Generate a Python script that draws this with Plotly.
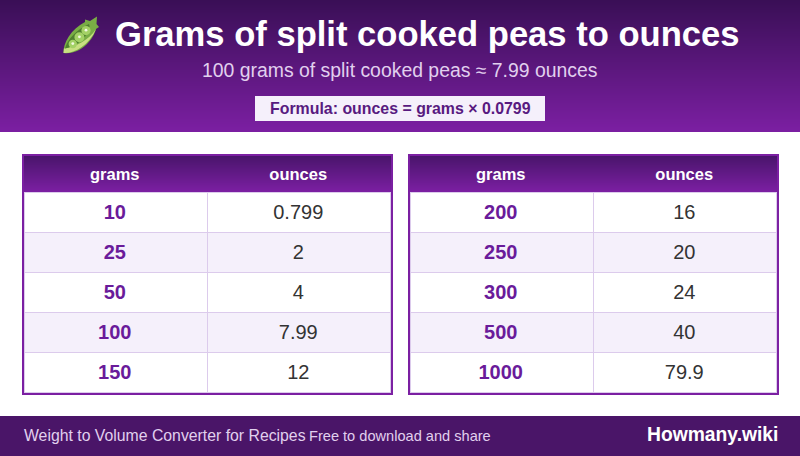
import plotly.graph_objects as go

# ---- data ----
TITLE = "Grams of split cooked peas to ounces"
SUBTITLE = "100 grams of split cooked peas ≈ 7.99 ounces"
FORMULA = "Formula: ounces = grams × 0.0799"
FOOT_LEFT = "Weight to Volume Converter for Recipes"
FOOT_MID = "Free to download and share"
BRAND = "Howmany.wiki"
COLUMNS = ["grams", "ounces"]
grams_left = ["10", "25", "50", "100", "150"]
ounces_left = ["0.799", "2", "4", "7.99", "12"]
grams_right = ["200", "250", "300", "500", "1000"]
ounces_right = ["16", "20", "24", "40", "79.9"]

W, H = 800, 456
FONT = "Liberation Sans, Arial, sans-serif"
PURPLE = "#7b1fa2"
DEEP = "#6a1b9a"
LINE = "#dccbec"
ALT = "#f5f0fb"
FOOT = "#4a1568"
TEXT_DROP = 4  # table text sits above the middle of its row
TEXT_LEFT = 1  # and a pixel right of the middle of its column


def lerp(c0, c1, t):
    return "rgb(%d,%d,%d)" % tuple(round(a + (b - a) * t) for a, b in zip(c0, c1))


shapes = []


def rect(x0, y0, x1, y1, fill, layer="below"):
    shapes.append(dict(type="rect", xref="x", yref="y", x0=x0, y0=y0, x1=x1, y1=y1,
                       fillcolor=fill, layer=layer, line=dict(width=0)))


def gradient(x0, y0, x1, y1, c0, c1):
    n = y1 - y0
    for i in range(n):
        rect(x0, y0 + i, x1, y0 + i + 1, lerp(c0, c1, i / max(n - 1, 1)))


gradient(0, 0, W, 132, (58, 15, 86), (123, 31, 162))
rect(255, 96, 545, 121, ALT)
rect(0, 416, W, H, FOOT)

fig = go.Figure()


def table(x0, grams, ounces):
    x1 = x0 + 371
    rect(x0, 154, x1, 395, PURPLE)
    gradient(x0 + 2, 156, x1 - 2, 192, (74, 21, 108), (123, 31, 162))
    rect(x0 + 2, 192, x1 - 2, 393, "#ffffff")
    rows = len(grams)
    for i in range(rows):
        top = 192 + 40 * i
        if i % 2:
            rect(x0 + 2, top, x1 - 2, top + 40, ALT)
    for i in range(rows + 1):
        top = 192 + 40 * i
        rect(x0 + 2, top, x1 - 2, top + 1, LINE)
    for dx in (2, 185, 368):
        rect(x0 + dx, 192, x0 + dx + 1, 393, LINE)
    fig.add_trace(go.Table(
        domain=dict(x=[(x0 + 2 - TEXT_LEFT) / W, (x1 - 2 - TEXT_LEFT) / W],
                    y=[1 - (393 + TEXT_DROP) / H, 1 - (156 + TEXT_DROP) / H]),
        columnwidth=[1, 1],
        header=dict(values=COLUMNS, height=36, align="center",
                    fill=dict(color="rgba(0,0,0,0)"),
                    line=dict(color="rgba(0,0,0,0)", width=0),
                    font=dict(family=FONT, size=16.5, color="#ffffff", weight="bold")),
        cells=dict(values=[grams, ounces], height=40, align="center",
                   fill=dict(color="rgba(0,0,0,0)"),
                   line=dict(color="rgba(0,0,0,0)", width=0),
                   font=dict(family=FONT, size=20,
                             color=[DEEP, "#333333"], weight=["bold", "normal"])),
    ))


table(22, grams_left, ounces_left)
table(408, grams_right, ounces_right)


# pea pod icon
def path(d, fill):
    shapes.append(dict(type="path", xref="x", yref="y", path=d, fillcolor=fill, layer="above",
                       line=dict(width=0)))


def dot(cx, cy, r, fill):
    shapes.append(dict(type="circle", xref="x", yref="y", x0=cx - r, y0=cy - r, x1=cx + r, y1=cy + r,
                       fillcolor=fill, layer="above", line=dict(width=0)))


path("M63.5 53 C63 43 71 29 85 22 L85 19.5 L90 21 L97 16.5 L96.5 24 L99 27 L96 29 C92 43 78 55 63.5 53 Z", "#79ad45")
path("M63.5 53 C73 54 89 46 96 29 C89 40 76 47 64 48.5 Z", "#c8df82")
path("M65 48.5 C67 40 77 29 89 24 C92 31 81 45 65 48.5 Z", "#4e7f2e")
for cx, cy, r in [(72.8, 44, 4.2), (79.4, 37.2, 5), (86, 30.6, 4.6)]:
    dot(cx, cy, r, "#a3d165")
    dot(cx, cy - 0.4, 1.4, "#f2f8e4")


def text(x, y, s, size, color, anchor="center", bold=False):
    return dict(x=x, y=y, xref="x", yref="y", text=s, showarrow=False, xanchor=anchor, yanchor="middle",
                font=dict(family=FONT, size=size, color=color, weight="bold" if bold else "normal"))


annotations = [
    text(113, 33.5, TITLE, 34.6, "#ffffff", "left", True),
    text(399, 69.5, SUBTITLE, 19.4, "#e1d0ee"),
    text(400, 108.5, FORMULA, 15.9, "#581a80", bold=True),
    text(22, 435.5, FOOT_LEFT, 15.8, "#e1d0ee", "left"),
    text(307, 436, FOOT_MID, 14.6, "#e1d0ee", "left"),
    text(780, 434.5, BRAND, 19.3, "#ffffff", "right", True),
]

fig.update_layout(
    width=W, height=H, margin=dict(l=0, r=0, t=0, b=0), autosize=False,
    paper_bgcolor="#ffffff", plot_bgcolor="rgba(0,0,0,0)", showlegend=False,
    xaxis=dict(range=[0, W], visible=False, fixedrange=True),
    yaxis=dict(range=[H, 0], visible=False, fixedrange=True),
    shapes=shapes, annotations=annotations,
)
fig.add_trace(go.Scatter(x=[0, W], y=[0, H], mode="markers", marker=dict(opacity=0), hoverinfo="skip"))
fig.write_html("out.html", config=dict(displayModeBar=False),
               post_script="document.body.style.margin='0';document.documentElement.style.overflow='hidden';")
